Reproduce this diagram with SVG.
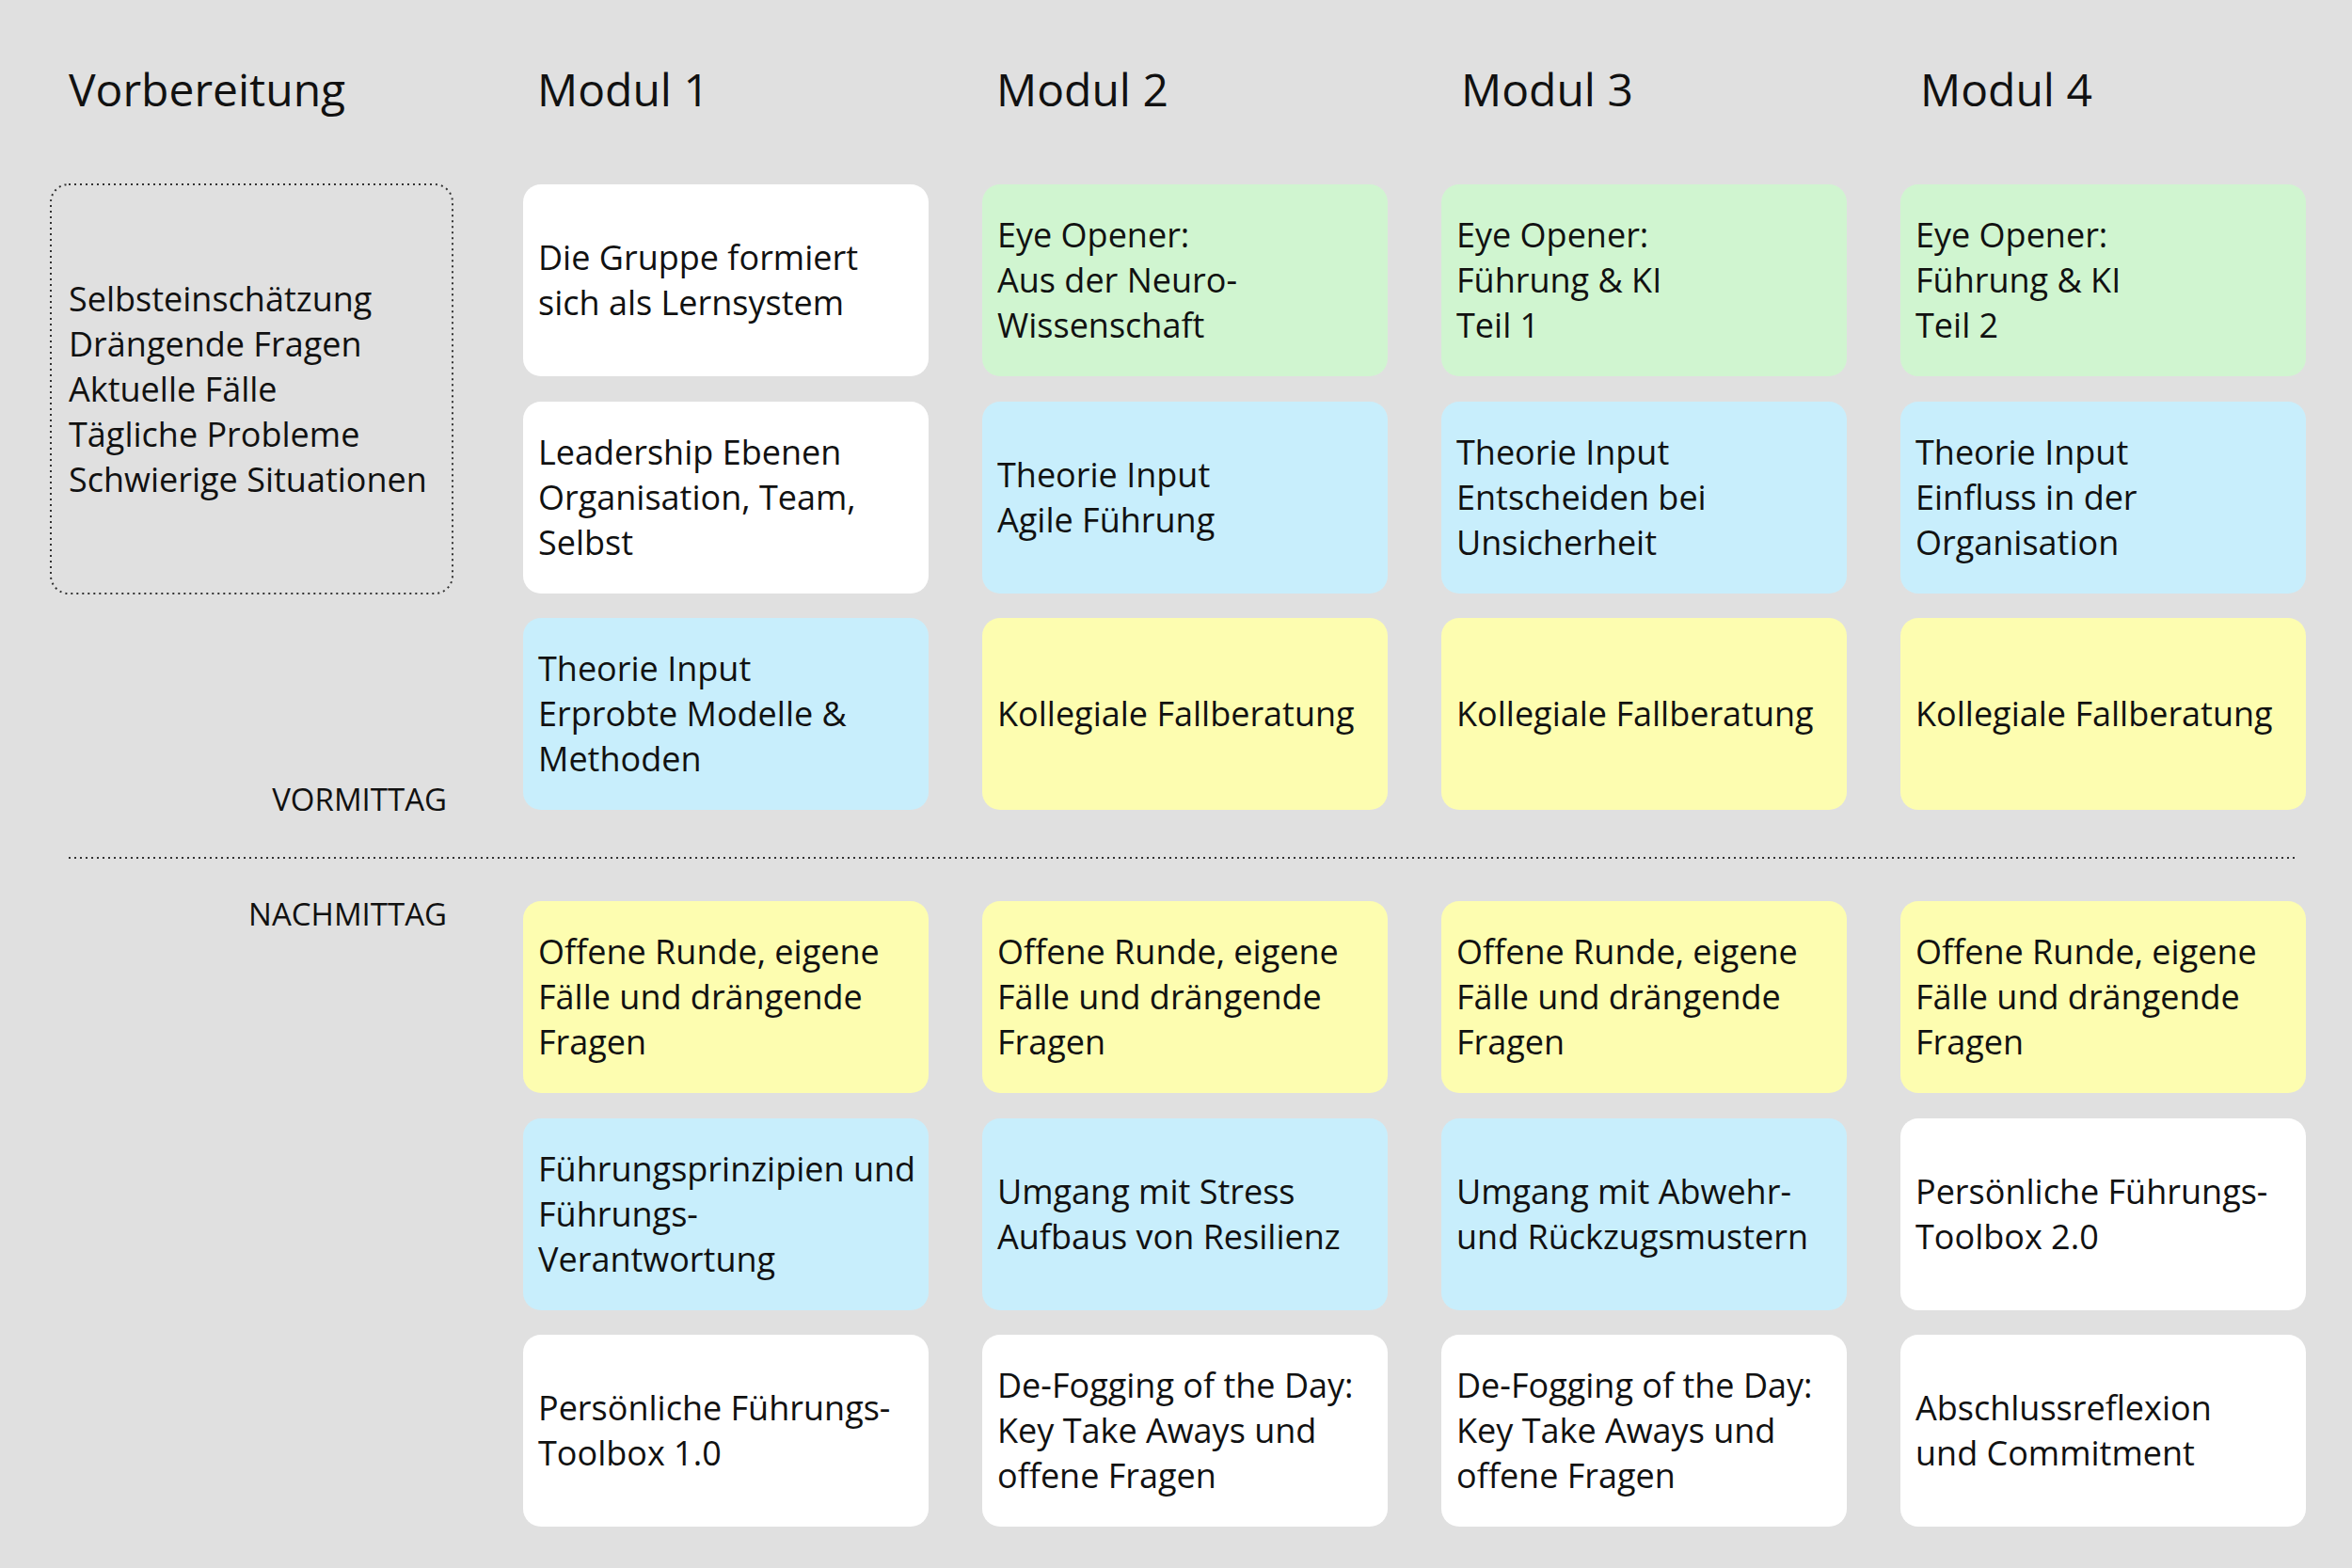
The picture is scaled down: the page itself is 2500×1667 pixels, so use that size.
<svg xmlns="http://www.w3.org/2000/svg" width="2500" height="1667" viewBox="0 0 2500 1667">
<style>
text{font-family:"Open Sans","Noto Sans",sans-serif;fill:#111}
.h{font-size:48px}
.t{font-size:36px}
.s{font-size:33px}
.b{stroke:none}
.w{fill:#ffffff}.g{fill:#d0f5d0}.c{fill:#c8eefc}.y{fill:#fdfdb0}
</style>
<rect width="2500" height="1667" fill="#e0e0e0"/>
<g id="headers">
<text class="h" x="73" y="113">Vorbereitung</text>
<text class="h" x="571" y="113">Modul 1</text>
<text class="h" x="1059" y="113">Modul 2</text>
<text class="h" x="1553" y="113">Modul 3</text>
<text class="h" x="2041" y="113">Modul 4</text>
</g>
<g id="vorbereitung">
<rect x="54" y="196" width="427" height="435" rx="19" fill="none" stroke="#333" stroke-width="2" stroke-dasharray="2,4"/>
<text class="t" x="73" y="331"><tspan x="73">Selbsteinschätzung</tspan><tspan x="73" dy="48">Drängende Fragen</tspan><tspan x="73" dy="48">Aktuelle Fälle</tspan><tspan x="73" dy="48">Tägliche Probleme</tspan><tspan x="73" dy="48">Schwierige Situationen</tspan></text>
</g>
<g id="labels">
<text class="s" x="475" y="862" text-anchor="end">VORMITTAG</text>
<text class="s" x="475" y="984" text-anchor="end">NACHMITTAG</text>
</g>
<g id="divider"><line x1="73" y1="912" x2="2441" y2="912" stroke="#333" stroke-width="2" stroke-dasharray="2,4"/></g>
<g id="m1">
<g id="m1r1"><rect class="w" x="556" y="196" width="431" height="204" rx="19"/><text class="t"><tspan x="572" y="287">Die Gruppe formiert</tspan><tspan x="572" dy="48">sich als Lernsystem</tspan></text></g>
<g id="m1r2"><rect class="w" x="556" y="427" width="431" height="204" rx="19"/><text class="t"><tspan x="572" y="494">Leadership Ebenen</tspan><tspan x="572" dy="48">Organisation, Team,</tspan><tspan x="572" dy="48">Selbst</tspan></text></g>
<g id="m1r3"><rect class="c" x="556" y="657" width="431" height="204" rx="19"/><text class="t"><tspan x="572" y="724">Theorie Input</tspan><tspan x="572" dy="48">Erprobte Modelle &amp;</tspan><tspan x="572" dy="48">Methoden</tspan></text></g>
<g id="m1r4"><rect class="y" x="556" y="958" width="431" height="204" rx="19"/><text class="t"><tspan x="572" y="1025">Offene Runde, eigene</tspan><tspan x="572" dy="48">Fälle und drängende</tspan><tspan x="572" dy="48">Fragen</tspan></text></g>
<g id="m1r5"><rect class="c" x="556" y="1189" width="431" height="204" rx="19"/><text class="t"><tspan x="572" y="1256">Führungsprinzipien und</tspan><tspan x="572" dy="48">Führungs-</tspan><tspan x="572" dy="48">Verantwortung</tspan></text></g>
<g id="m1r6"><rect class="w" x="556" y="1419" width="431" height="204" rx="19"/><text class="t"><tspan x="572" y="1510">Persönliche Führungs-</tspan><tspan x="572" dy="48">Toolbox 1.0</tspan></text></g>
</g>
<g id="m2">
<g id="m2r1"><rect class="g" x="1044" y="196" width="431" height="204" rx="19"/><text class="t"><tspan x="1060" y="263">Eye Opener:</tspan><tspan x="1060" dy="48">Aus der Neuro-</tspan><tspan x="1060" dy="48">Wissenschaft</tspan></text></g>
<g id="m2r2"><rect class="c" x="1044" y="427" width="431" height="204" rx="19"/><text class="t"><tspan x="1060" y="518">Theorie Input</tspan><tspan x="1060" dy="48">Agile Führung</tspan></text></g>
<g id="m2r3"><rect class="y" x="1044" y="657" width="431" height="204" rx="19"/><text class="t"><tspan x="1060" y="772">Kollegiale Fallberatung</tspan></text></g>
<g id="m2r4"><rect class="y" x="1044" y="958" width="431" height="204" rx="19"/><text class="t"><tspan x="1060" y="1025">Offene Runde, eigene</tspan><tspan x="1060" dy="48">Fälle und drängende</tspan><tspan x="1060" dy="48">Fragen</tspan></text></g>
<g id="m2r5"><rect class="c" x="1044" y="1189" width="431" height="204" rx="19"/><text class="t"><tspan x="1060" y="1280">Umgang mit Stress</tspan><tspan x="1060" dy="48">Aufbaus von Resilienz</tspan></text></g>
<g id="m2r6"><rect class="w" x="1044" y="1419" width="431" height="204" rx="19"/><text class="t"><tspan x="1060" y="1486">De-Fogging of the Day:</tspan><tspan x="1060" dy="48">Key Take Aways und</tspan><tspan x="1060" dy="48">offene Fragen</tspan></text></g>
</g>
<g id="m3">
<g id="m3r1"><rect class="g" x="1532" y="196" width="431" height="204" rx="19"/><text class="t"><tspan x="1548" y="263">Eye Opener:</tspan><tspan x="1548" dy="48">Führung &amp; KI</tspan><tspan x="1548" dy="48">Teil 1</tspan></text></g>
<g id="m3r2"><rect class="c" x="1532" y="427" width="431" height="204" rx="19"/><text class="t"><tspan x="1548" y="494">Theorie Input</tspan><tspan x="1548" dy="48">Entscheiden bei</tspan><tspan x="1548" dy="48">Unsicherheit</tspan></text></g>
<g id="m3r3"><rect class="y" x="1532" y="657" width="431" height="204" rx="19"/><text class="t"><tspan x="1548" y="772">Kollegiale Fallberatung</tspan></text></g>
<g id="m3r4"><rect class="y" x="1532" y="958" width="431" height="204" rx="19"/><text class="t"><tspan x="1548" y="1025">Offene Runde, eigene</tspan><tspan x="1548" dy="48">Fälle und drängende</tspan><tspan x="1548" dy="48">Fragen</tspan></text></g>
<g id="m3r5"><rect class="c" x="1532" y="1189" width="431" height="204" rx="19"/><text class="t"><tspan x="1548" y="1280">Umgang mit Abwehr-</tspan><tspan x="1548" dy="48">und Rückzugsmustern</tspan></text></g>
<g id="m3r6"><rect class="w" x="1532" y="1419" width="431" height="204" rx="19"/><text class="t"><tspan x="1548" y="1486">De-Fogging of the Day:</tspan><tspan x="1548" dy="48">Key Take Aways und</tspan><tspan x="1548" dy="48">offene Fragen</tspan></text></g>
</g>
<g id="m4">
<g id="m4r1"><rect class="g" x="2020" y="196" width="431" height="204" rx="19"/><text class="t"><tspan x="2036" y="263">Eye Opener:</tspan><tspan x="2036" dy="48">Führung &amp; KI</tspan><tspan x="2036" dy="48">Teil 2</tspan></text></g>
<g id="m4r2"><rect class="c" x="2020" y="427" width="431" height="204" rx="19"/><text class="t"><tspan x="2036" y="494">Theorie Input</tspan><tspan x="2036" dy="48">Einfluss in der</tspan><tspan x="2036" dy="48">Organisation</tspan></text></g>
<g id="m4r3"><rect class="y" x="2020" y="657" width="431" height="204" rx="19"/><text class="t"><tspan x="2036" y="772">Kollegiale Fallberatung</tspan></text></g>
<g id="m4r4"><rect class="y" x="2020" y="958" width="431" height="204" rx="19"/><text class="t"><tspan x="2036" y="1025">Offene Runde, eigene</tspan><tspan x="2036" dy="48">Fälle und drängende</tspan><tspan x="2036" dy="48">Fragen</tspan></text></g>
<g id="m4r5"><rect class="w" x="2020" y="1189" width="431" height="204" rx="19"/><text class="t"><tspan x="2036" y="1280">Persönliche Führungs-</tspan><tspan x="2036" dy="48">Toolbox 2.0</tspan></text></g>
<g id="m4r6"><rect class="w" x="2020" y="1419" width="431" height="204" rx="19"/><text class="t"><tspan x="2036" y="1510">Abschlussreflexion</tspan><tspan x="2036" dy="48">und Commitment</tspan></text></g>
</g>
<g id="connectors"/>
</svg>
